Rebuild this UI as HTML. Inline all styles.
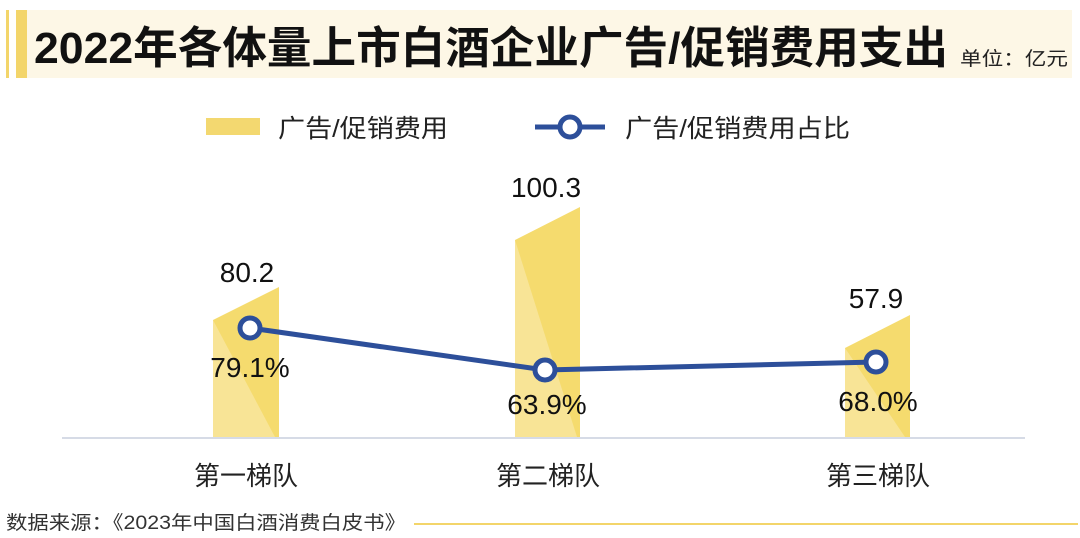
<!DOCTYPE html>
<html><head><meta charset="utf-8"><style>
body{margin:0;width:1080px;height:538px;background:#fff;overflow:hidden;font-family:"Liberation Sans","Noto Sans CJK SC",sans-serif;}
</style></head><body>
<svg width="1080" height="538" viewBox="0 0 1080 538" style="position:absolute;left:0;top:0">
<rect x="16" y="10" width="1056" height="68" fill="#fdf7e6"/>
<rect x="6" y="10" width="3" height="68" fill="#f3d56a"/>
<rect x="16" y="10" width="11" height="68" fill="#f3d56a"/>
<text x="34" y="63" font-size="44" font-weight="bold" fill="#111" textLength="914" lengthAdjust="spacingAndGlyphs" font-family="Liberation Sans,Noto Sans CJK SC,sans-serif">2022年各体量上市白酒企业广告/促销费用支出</text>
<text x="960" y="65" font-size="19" fill="#222" textLength="108" lengthAdjust="spacingAndGlyphs" font-family="Liberation Sans,Noto Sans CJK SC,sans-serif">单位：亿元</text>
<rect x="206" y="118" width="54" height="17" fill="#f3d870"/>
<text x="278" y="137" font-size="25" fill="#222" textLength="170" lengthAdjust="spacingAndGlyphs" font-family="Liberation Sans,Noto Sans CJK SC,sans-serif">广告/促销费用</text>
<line x1="535" y1="127" x2="605" y2="127" stroke="#2d4f9a" stroke-width="5"/>
<circle cx="570" cy="127" r="10" fill="#fff" stroke="#2d4f9a" stroke-width="5"/>
<text x="625" y="137" font-size="25" fill="#222" textLength="225" lengthAdjust="spacingAndGlyphs" font-family="Liberation Sans,Noto Sans CJK SC,sans-serif">广告/促销费用占比</text>
<g>
<polygon points="213,320 279,287 279,437 213,437" fill="#f5db6e"/>
<polygon points="213,320 275,437 213,437" fill="#f8e496"/>
<polygon points="515,240 580,207 580,437 515,437" fill="#f5db6e"/>
<polygon points="515,240 577,437 515,437" fill="#f8e496"/>
<polygon points="845,348 910,315 910,437 845,437" fill="#f5db6e"/>
<polygon points="845,348 905,437 845,437" fill="#f8e496"/>
</g>
<line x1="62" y1="438" x2="1025" y2="438" stroke="#d6dbe6" stroke-width="2"/>
<polyline points="250,328 545,370 876,362" fill="none" stroke="#2d4f9a" stroke-width="5"/>
<circle cx="250" cy="328" r="10" fill="#fff" stroke="#2d4f9a" stroke-width="5"/>
<circle cx="545" cy="370" r="10" fill="#fff" stroke="#2d4f9a" stroke-width="5"/>
<circle cx="876" cy="362" r="10" fill="#fff" stroke="#2d4f9a" stroke-width="5"/>
<g font-size="28" fill="#111" text-anchor="middle" font-family="Liberation Sans,sans-serif">
<text x="247" y="282">80.2</text>
<text x="546" y="197">100.3</text>
<text x="876" y="308">57.9</text>
<text x="250" y="377">79.1%</text>
<text x="547" y="414">63.9%</text>
<text x="878" y="411">68.0%</text>
</g>
<g font-size="26" fill="#222" text-anchor="middle" font-family="Liberation Sans,Noto Sans CJK SC,sans-serif">
<text x="246" y="485">第一梯队</text>
<text x="548" y="485">第二梯队</text>
<text x="878" y="485">第三梯队</text>
</g>
<text x="6" y="529" font-size="19" fill="#333" textLength="400" lengthAdjust="spacingAndGlyphs" font-family="Liberation Sans,Noto Sans CJK SC,sans-serif">数据来源：《2023年中国白酒消费白皮书》</text>
<line x1="414" y1="524" x2="1078" y2="524" stroke="#f3d56a" stroke-width="2"/>
</svg>
</body></html>
